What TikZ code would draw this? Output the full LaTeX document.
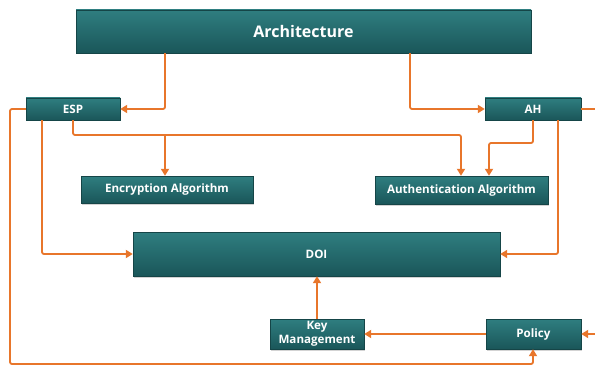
\documentclass[tikz,border=0pt]{standalone}
\usepackage{fontspec}
\setmainfont{Open Sans}
\usetikzlibrary{shadows,arrows.meta}
\definecolor{boxtop}{HTML}{2F7E80}
\definecolor{boxbot}{HTML}{1A5659}
\definecolor{conn}{HTML}{E8762B}
\begin{document}
\begin{tikzpicture}[x=1pt,y=-1pt,
  box/.style={draw=boxbot!80!black,line width=0.4pt,top color=boxtop,bottom color=boxbot,
    drop shadow={shadow xshift=1.2pt,shadow yshift=-1.5pt,opacity=0.35},
    text=white,font=\bfseries\fontsize{11.6}{13}\selectfont,inner sep=0pt,align=center},
  conn/.style={draw=conn,line width=1.8pt,rounded corners=2pt},
  arr/.style={conn,-{Triangle[length=7pt,width=8pt]}}]
\useasboundingbox (0,0) rectangle (595,369);
\clip (0,0) rectangle (595,369);
\node[box,minimum width=455pt,minimum height=43pt,font=\bfseries\fontsize{16}{18}\selectfont] (arch) at (303.5,31.5) {Architecture};
\node[box,minimum width=94pt,minimum height=22pt] (esp) at (73,109) {ESP};
\node[box,minimum width=96pt,minimum height=22pt] (ah) at (533,109) {AH};
\node[box,minimum width=172pt,minimum height=27pt] (enc) at (167,189.5) {Encryption Algorithm};
\node[box,minimum width=173pt,minimum height=28pt] (auth) at (461.5,190) {Authentication Algorithm};
\node[box,minimum width=367pt,minimum height=44pt] (doi) at (316.5,254) {DOI};
\node[box,minimum width=94pt,minimum height=30pt,font=\bfseries\fontsize{11.6}{14}\selectfont] (key) at (317,334) {Key\\Management};
\node[box,minimum width=95pt,minimum height=30pt] (pol) at (533.5,334) {Policy};
% Architecture to ESP / AH
\draw[arr] (arch.south -| 165,0) |- (esp.east);
\draw[arr] (arch.south -| 410,0) |- (ah.west);
% ESP links
\draw[arr] (esp.south -| 42,0) |- (doi.west);
\draw[arr] (esp.south -| 73,0) -- (73,135) -- (461,135) -- (auth.north -| 461,0);
\draw[arr] (165,135) -- (enc.north -| 165,0);
\draw[arr] (esp.west) -- (10,109) -- (10,364) -- (533,364) -- (pol.south -| 533,0);
% AH links
\draw[arr] (ah.south -| 533,0) -- (533,143) -- (489,143) -- (auth.north -| 489,0);
\draw[arr] (ah.south -| 558,0) |- (doi.east);
\draw[arr] (ah.east) -- (600,109) -- (600,334) -- (pol.east);
% Policy / Key
\draw[arr] (pol.west) -- (key.east);
\draw[arr] (key.north) -- (doi.south -| key.north);
\end{tikzpicture}
\end{document}
